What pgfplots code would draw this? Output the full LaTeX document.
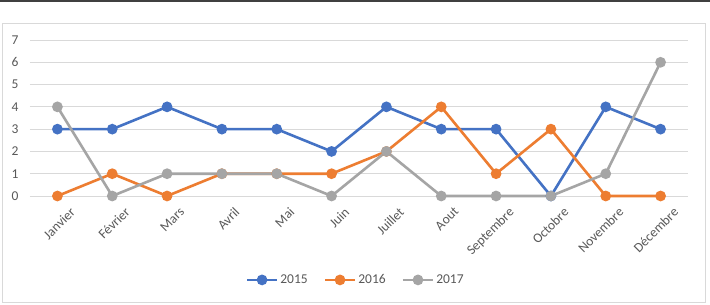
\documentclass[border=0pt]{standalone}
\usepackage{pgfplots}
\pgfplotsset{compat=1.18}
\usepackage{fontspec}
\setmainfont{Carlito}

\definecolor{s2015}{HTML}{4472C4}
\definecolor{s2016}{HTML}{ED7D31}
\definecolor{s2017}{HTML}{A5A5A5}
\definecolor{gridgray}{HTML}{D9D9D9}
\definecolor{txtgray}{HTML}{595959}
\definecolor{topbar}{HTML}{404040}

\begin{document}
\begin{tikzpicture}
% page background, top rule and chart frame
\fill[white] (0pt,0pt) rectangle (710pt,305pt);
\fill[topbar] (0pt,302.5pt) rectangle (710pt,305pt);
\draw[gridgray, line width=1pt] (2pt,2pt) rectangle (705pt,281pt);

\begin{axis}[
  at={(30pt,109pt)}, anchor=south west,
  scale only axis, width=658pt, height=156pt,
  xmin=-0.5, xmax=11.5, ymin=0, ymax=7,
  axis line style={draw=none},
  tick style={draw=none},
  ymajorgrids, major grid style={gridgray, line width=0.9pt},
  ytick={0,1,...,7},
  xtick={0,...,11},
  xticklabels={Janvier,Février,Mars,Avril,Mai,Juin,Juillet,Aout,Septembre,Octobre,Novembre,Décembre},
  xticklabel style={rotate=45, anchor=north east, xshift=4.5pt, yshift=-12.3pt},
  yticklabel style={anchor=east, xshift=-8pt},
  tick label style={font=\fontsize{13.5}{15}\selectfont, text=txtgray},
  /pgf/number format/assume math mode=true,
  clip=false,
  legend columns=3,
  legend style={at={(0.495,-0.538)}, anchor=center, draw=none, fill=none,
    font=\fontsize{13.5}{15}\selectfont, text=txtgray,
    nodes={inner xsep=2pt},
    /tikz/every even column/.append style={column sep=14pt}},
  legend image code/.code={%
    \draw[mark repeat=2, mark phase=2] plot coordinates {(0pt,0pt) (15pt,0pt) (30pt,0pt)};},
  every axis plot/.append style={line width=2.6pt, mark=*, mark size=4pt, mark options={solid}},
]
\addplot[s2015, mark options={fill=s2015, draw=s2015}] coordinates {
  (0,3) (1,3) (2,4) (3,3) (4,3) (5,2) (6,4) (7,3) (8,3) (9,0) (10,4) (11,3)};
\addlegendentry{2015}
\addplot[s2016, mark options={fill=s2016, draw=s2016}] coordinates {
  (0,0) (1,1) (2,0) (3,1) (4,1) (5,1) (6,2) (7,4) (8,1) (9,3) (10,0) (11,0)};
\addlegendentry{2016}
\addplot[s2017, mark options={fill=s2017, draw=s2017}] coordinates {
  (0,4) (1,0) (2,1) (3,1) (4,1) (5,0) (6,2) (7,0) (8,0) (9,0) (10,1) (11,6)};
\addlegendentry{2017}
\end{axis}
\end{tikzpicture}
\end{document}
